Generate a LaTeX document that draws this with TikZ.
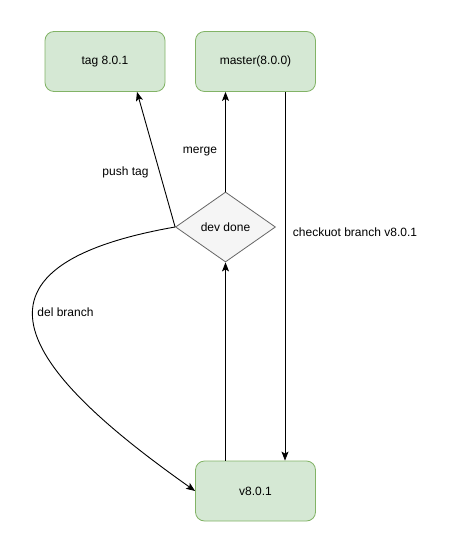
\documentclass[tikz,border=0pt]{standalone}
\usepackage{fontspec}
\setmainfont{Liberation Sans}
\usetikzlibrary{shapes.geometric,arrows.meta}
\definecolor{gfill}{HTML}{D5E8D4}
\definecolor{gline}{HTML}{82B366}
\definecolor{dfill}{HTML}{F5F5F5}
\definecolor{dline}{HTML}{666666}
\begin{document}
\begin{tikzpicture}[x=1pt,y=-1pt,
  font=\fontsize{12}{14}\selectfont,
  box/.style={draw=gline,fill=gfill,rounded corners=9pt,minimum width=120pt,minimum height=60pt,inner sep=0pt,line width=0.8pt},
  dia/.style={diamond,draw=dline,fill=dfill,minimum width=100pt,minimum height=70pt,inner sep=0pt,line width=0.8pt},
  conn/.style={line width=0.9pt,-{Stealth[length=9pt,width=7pt,inset=2pt]}},
  lbl/.style={inner sep=0pt}]
\useasboundingbox (0,0) rectangle (467,545);
\node[box] (tag) at (105,61.5) {tag 8.0.1};
\node[box] (master) at (255.5,61.5) {master(8.0.0)};
\node[dia] (dd) at (225.5,227) {dev done};
\node[box] (v8) at (255.5,491) {v8.0.1};
\draw[conn] (dd.west) -- ([xshift=32pt]tag.south);
\draw[conn] (dd.north) -- (dd.north |- master.south);
\draw[conn] ([xshift=29.5pt]master.south) -- ([xshift=29.5pt]v8.north);
\draw[conn] (dd.south |- v8.north) -- (dd.south);
\draw[conn] (dd.west) .. controls (-70,270) and (45,385) .. (v8.west);
\node[lbl] (lmerge) at (200,152) {merge};
\node[lbl] (lpush) at (125.5,172) {push tag};
\node[lbl] (lcheck) at (355,232) {checkuot branch v8.0.1};
\node[lbl] (ldel) at (65.5,312) {del branch};
\end{tikzpicture}
\end{document}
